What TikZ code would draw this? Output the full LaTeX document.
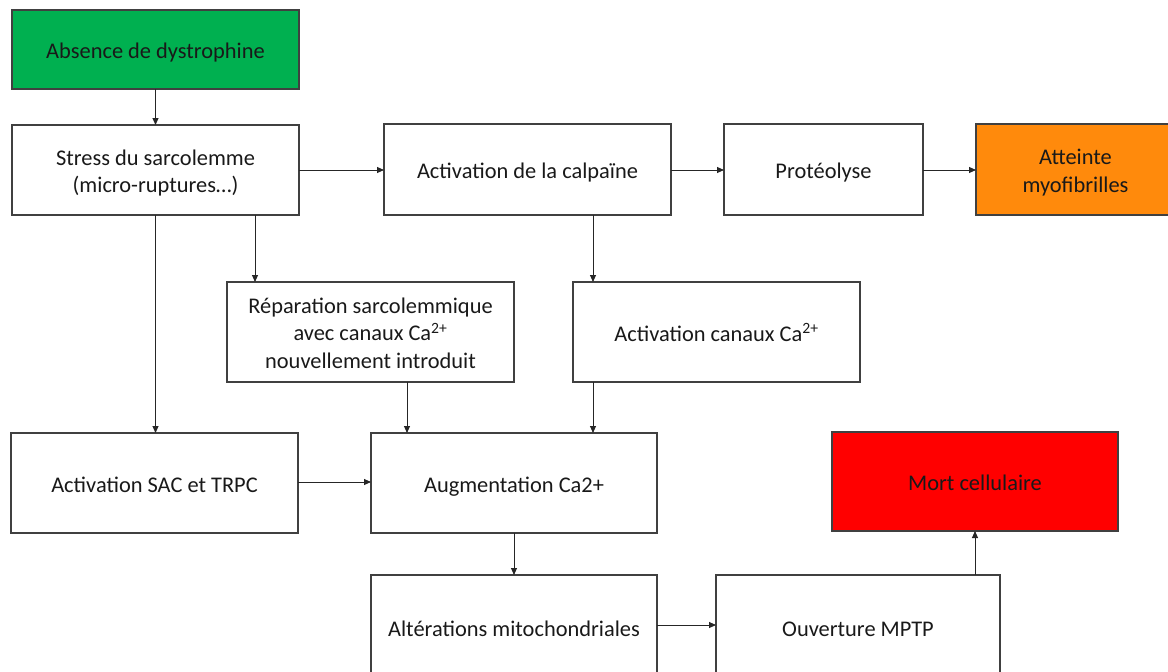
\documentclass[tikz,border=0pt]{standalone}
\usepackage{fontspec}
\setmainfont{Carlito}
\usetikzlibrary{arrows.meta}
\definecolor{boxgreen}{HTML}{00B050}
\definecolor{boxorange}{HTML}{FF8A0C}
\definecolor{boxred}{HTML}{FF0000}
\definecolor{edge}{HTML}{404040}
\newcommand{\topstrut}{\rule{0pt}{26pt}}
\tikzset{
  box/.style={draw=edge, line width=1.4pt, rectangle, inner sep=0pt, outer sep=0pt,
    font=\fontsize{22.4}{27.5}\selectfont, text=black!90,
    execute at begin node={\rule{0pt}{25pt}},
    execute at end node={\rule[-6.4pt]{0pt}{6.4pt}}},
  arr/.style={draw=black!85, line width=0.9pt, -{Triangle[length=7pt,width=6pt]}}
}
\begin{document}
\begin{tikzpicture}[x=1pt,y=-1pt]
\useasboundingbox (0,0) rectangle (1168,672);
% nodes
\node[box, fill=boxgreen, minimum width=287pt, minimum height=79pt] (abs) at (155.5,49.5) {Absence de dystrophine};
\node[box, minimum width=287pt, minimum height=90pt] (stress) at (155.5,170)
  {\begin{tabular}{@{}c@{}}\topstrut Stress du sarcolemme\\(micro-ruptures…)\end{tabular}};
\node[box, minimum width=287pt, minimum height=91pt] (calp) at (527.5,169.5) {Activation de la calpaïne};
\node[box, minimum width=199pt, minimum height=91pt] (prot) at (823.5,169.5) {Protéolyse};
\node[box, fill=boxorange, minimum width=199pt, minimum height=91pt] (att) at (1075.5,169.5)
  {\begin{tabular}{@{}c@{}}\topstrut Atteinte\\myofibrilles\end{tabular}};
\node[box, minimum width=287pt, minimum height=100pt] (rep) at (370.5,332)
  {\begin{tabular}{@{}c@{}}\topstrut Réparation sarcolemmique\\avec canaux Ca\textsuperscript{2+}\\nouvellement introduit\end{tabular}};
\node[box, minimum width=287pt, minimum height=100pt] (can) at (716.5,332) {Activation canaux Ca\textsuperscript{2+}};
\node[box, minimum width=287pt, minimum height=100pt] (sac) at (154.5,483) {Activation SAC et TRPC};
\node[box, minimum width=286pt, minimum height=100pt] (aug) at (514,483) {Augmentation Ca2+};
\node[box, fill=boxred, minimum width=286pt, minimum height=99pt] (mort) at (975,481.5) {Mort cellulaire};
\node[box, minimum width=286pt, minimum height=104pt] (alt) at (514,627) {Altérations mitochondriales};
\node[box, minimum width=284pt, minimum height=104pt] (mptp) at (858,627) {Ouverture MPTP};
% helper coordinates
\coordinate (xa) at (155.5,0);
\coordinate (xb) at (255,0);
\coordinate (xc) at (593,0);
\coordinate (xd) at (407,0);
\coordinate (xe) at (514,0);
\coordinate (xf) at (975,0);
\coordinate (ya) at (0,170);
\coordinate (yb) at (0,482);
\coordinate (yc) at (0,625);
% connectors
\draw[arr] (abs.south -| xa) -- (stress.north -| xa);
\draw[arr] (stress.east |- ya) -- (calp.west |- ya);
\draw[arr] (calp.east |- ya) -- (prot.west |- ya);
\draw[arr] (prot.east |- ya) -- (att.west |- ya);
\draw[arr] (stress.south -| xb) -- (rep.north -| xb);
\draw[arr] (stress.south -| xa) -- (sac.north -| xa);
\draw[arr] (calp.south -| xc) -- (can.north -| xc);
\draw[arr] (rep.south -| xd) -- (aug.north -| xd);
\draw[arr] (can.south -| xc) -- (aug.north -| xc);
\draw[arr] (sac.east |- yb) -- (aug.west |- yb);
\draw[arr] (aug.south -| xe) -- (alt.north -| xe);
\draw[arr] (alt.east |- yc) -- (mptp.west |- yc);
\draw[arr] (mptp.north -| xf) -- (mort.south -| xf);
\end{tikzpicture}
\end{document}
